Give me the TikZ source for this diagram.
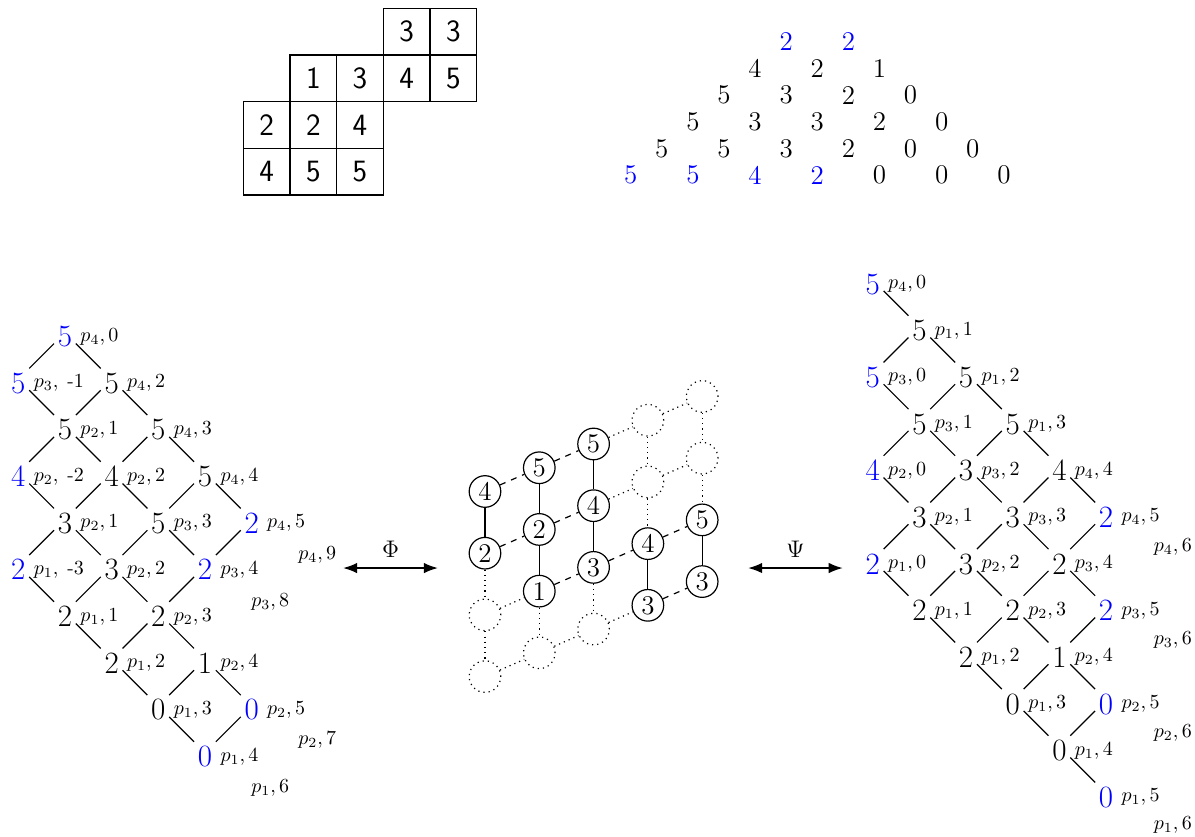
\documentclass[tikz,border=0pt]{standalone}
\usepackage{amsmath}
\usepackage{tikz}
\usetikzlibrary{arrows.meta,positioning,calc}

\tikzset{
  cell/.style={draw, minimum size=23.33pt, inner sep=0pt, font=\sffamily\fontsize{15.5}{18}\selectfont},
  tri/.style={inner sep=1pt, font=\fontsize{13.5}{16}\selectfont},
  dig/.style={inner sep=1.6pt, text height=14pt, text depth=0pt, font=\fontsize{15.5}{18}\selectfont},
  lbl/.style={inner sep=0pt, anchor=west, font=\fontsize{9.7}{11}\selectfont},
  ball/.style={circle, draw, minimum size=15.8pt, inner sep=0pt, font=\fontsize{13.5}{16}\selectfont},
  ghost/.style={ball, dotted},
  map/.style={line width=0.9pt, {Latex}-{Latex}}
}

\begin{document}
\begin{tikzpicture}[x=23.33pt, y=23.33pt, line width=0.6pt]
\useasboundingbox (0,0) rectangle (25.606,17.914);

% Skew tableau
\foreach \x/\y/\v in {3/0/3, 4/0/3, 1/1/1, 2/1/3, 3/1/4, 4/1/5, 0/2/2, 1/2/2, 2/2/4, 0/3/4, 1/3/5, 2/3/5} {
    \node[cell] (t\x-\y) at (5.713+\x, 17.235-\y) {\v};
}

% Triangular array
\foreach \x/\y/\v/\clr in {5/0/2/blue, 7/0/2/blue,
    4/1/4/black, 6/1/2/black, 8/1/1/black,
    3/2/5/black, 5/2/3/black, 7/2/2/black, 9/2/0/black,
    2/3/5/black, 4/3/3/black, 6/3/3/black, 8/3/2/black, 10/3/0/black,
    1/4/5/black, 3/4/5/black, 5/4/3/black, 7/4/2/black, 9/4/0/black, 11/4/0/black,
    0/5/5/blue, 2/5/5/blue, 4/5/4/blue, 6/5/2/blue, 8/5/0/black, 10/5/0/black, 12/5/0/black} {
    \node[tri, text=\clr] (g\x-\y) at (13.514+0.6664*\x, 17.02-0.5714*\y) {\v};
}

% Left lattice
\foreach \x/\y/\v/\clr/\s/\n in {1/0/5/blue/4/0,
    0/1/5/blue/3/{\;\mbox{-}1}, 2/1/5/black/4/2,
    1/2/5/black/2/1, 3/2/5/black/4/3,
    0/3/4/blue/2/{\;\mbox{-}2}, 2/3/4/black/2/2, 4/3/5/black/4/4,
    1/4/3/black/2/1, 3/4/5/black/3/3, 5/4/2/blue/4/5,
    0/5/2/blue/1/{\;\mbox{-}3}, 2/5/3/black/2/2, 4/5/2/blue/3/4,
    1/6/2/black/1/1, 3/6/2/black/2/3,
    2/7/2/black/1/2, 4/7/1/black/2/4,
    3/8/0/black/1/3, 5/8/0/blue/2/5,
    4/9/0/blue/1/4} {
    \node[dig, text=\clr] (l\x-\y) at (0.392+\x, 10.786-\y) {\v};
    \node[lbl] (lp\x-\y) at (0.712+\x, 10.70-\y) {$p_{\s},\n$};
}
\node[lbl] (lq4) at (6.379, 6.021) {$p_4,9$};
\node[lbl] (lq3) at (5.372, 5.020) {$p_3,8$};
\node[lbl] (lq2) at (6.379, 2.057) {$p_2,7$};
\node[lbl] (lq1) at (5.372, 1.022) {$p_1,6$};

\foreach \a/\b in {l1-0/l0-1, l1-0/l2-1, l0-1/l1-2, l2-1/l1-2, l2-1/l3-2,
    l1-2/l0-3, l1-2/l2-3, l3-2/l2-3, l3-2/l4-3,
    l0-3/l1-4, l2-3/l1-4, l2-3/l3-4, l4-3/l3-4, l4-3/l5-4,
    l1-4/l0-5, l1-4/l2-5, l3-4/l2-5, l3-4/l4-5, l5-4/l4-5,
    l0-5/l1-6, l2-5/l1-6, l2-5/l3-6, l4-5/l3-6,
    l1-6/l2-7, l3-6/l2-7, l3-6/l4-7,
    l2-7/l3-8, l4-7/l3-8, l4-7/l5-8,
    l3-8/l4-9, l5-8/l4-9} {
    \draw (\a) -- (\b);
}

% Middle grid
\foreach \x/\y/\v in {0/0/4, 0/1/2, 1/0/5, 1/1/2, 1/2/1, 2/0/5, 2/1/4, 2/2/3, 3/2/4, 3/3/3, 4/2/5, 4/3/3} {
    \node[ball] (m\x-\y) at (10.392+1.1635*\x, 7.382+0.509*\x-1.322*\y) {\v};
}
\foreach \x/\y in {0/2, 0/3, 1/3, 2/3, 3/0, 3/1, 4/0, 4/1} {
    \node[ghost] (m\x-\y) at (10.392+1.1635*\x, 7.382+0.509*\x-1.322*\y) {};
}

\foreach \a/\b in {m0-0/m0-1, m1-0/m1-1, m1-1/m1-2, m2-0/m2-1, m2-1/m2-2, m3-2/m3-3, m4-2/m4-3} {
    \draw (\a) -- (\b);
}
\foreach \a/\b in {m0-0/m1-0, m1-0/m2-0, m0-1/m1-1, m1-1/m2-1, m1-2/m2-2, m2-2/m3-2, m3-2/m4-2, m3-3/m4-3} {
    \draw[dashed] (\a) -- (\b);
}
\foreach \a/\b in {m0-1/m0-2, m0-2/m0-3, m1-2/m1-3, m2-2/m2-3, m3-0/m3-1, m3-1/m3-2, m4-0/m4-1, m4-1/m4-2,
    m2-0/m3-0, m3-0/m4-0, m2-1/m3-1, m3-1/m4-1, m0-2/m1-2, m0-3/m1-3, m1-3/m2-3, m2-3/m3-3} {
    \draw[dotted] (\a) -- (\b);
}

% Maps between the pictures
\coordinate (phiL) at (7.35, 5.742);
\coordinate (phiR) at (9.385, 5.742);
\draw[map] (phiL) -- node[above=1.5pt, font=\large] (phi) {$\Phi$} (phiR);
\coordinate (psiL) at (16.03, 5.742);
\coordinate (psiR) at (18.06, 5.742);
\draw[map] (psiL) -- node[above=1.5pt, font=\large] (psi) {$\Psi$} (psiR);

% Right lattice
\foreach \x/\y/\v/\clr/\s/\n in {0/0/5/blue/4/0,
    1/1/5/black/1/1,
    0/2/5/blue/3/0, 2/2/5/black/1/2,
    1/3/5/black/3/1, 3/3/5/black/1/3,
    0/4/4/blue/2/0, 2/4/3/black/3/2, 4/4/4/black/4/4,
    1/5/3/black/2/1, 3/5/3/black/3/3, 5/5/2/blue/4/5,
    0/6/2/blue/1/0, 2/6/3/black/2/2, 4/6/2/black/3/4,
    1/7/2/black/1/1, 3/7/2/black/2/3, 5/7/2/blue/3/5,
    2/8/2/black/1/2, 4/8/1/black/2/4,
    3/9/0/black/1/3, 5/9/0/blue/2/5,
    4/10/0/black/1/4,
    5/11/0/blue/1/5} {
    \node[dig, text=\clr] (r\x-\y) at (18.7+\x, 11.914-\y) {\v};
    \node[lbl] (rp\x-\y) at (19.02+\x, 11.828-\y) {$p_{\s},\n$};
}
\node[lbl] (rq4) at (24.712, 6.199) {$p_4,6$};
\node[lbl] (rq3) at (24.712, 4.200) {$p_3,6$};
\node[lbl] (rq2) at (24.712, 2.201) {$p_2,6$};
\node[lbl] (rq1) at (24.712, 0.236) {$p_1,6$};

\foreach \a/\b in {r0-0/r1-1, r1-1/r0-2, r1-1/r2-2, r0-2/r1-3, r2-2/r1-3, r2-2/r3-3,
    r1-3/r0-4, r1-3/r2-4, r3-3/r2-4, r3-3/r4-4,
    r0-4/r1-5, r2-4/r1-5, r2-4/r3-5, r4-4/r3-5, r4-4/r5-5,
    r1-5/r0-6, r1-5/r2-6, r3-5/r2-6, r3-5/r4-6, r5-5/r4-6,
    r0-6/r1-7, r2-6/r1-7, r2-6/r3-7, r4-6/r3-7, r4-6/r5-7,
    r1-7/r2-8, r3-7/r2-8, r3-7/r4-8, r5-7/r4-8,
    r2-8/r3-9, r4-8/r3-9, r4-8/r5-9,
    r3-9/r4-10, r5-9/r4-10, r4-10/r5-11} {
    \draw (\a) -- (\b);
}

\end{tikzpicture}
\end{document}
